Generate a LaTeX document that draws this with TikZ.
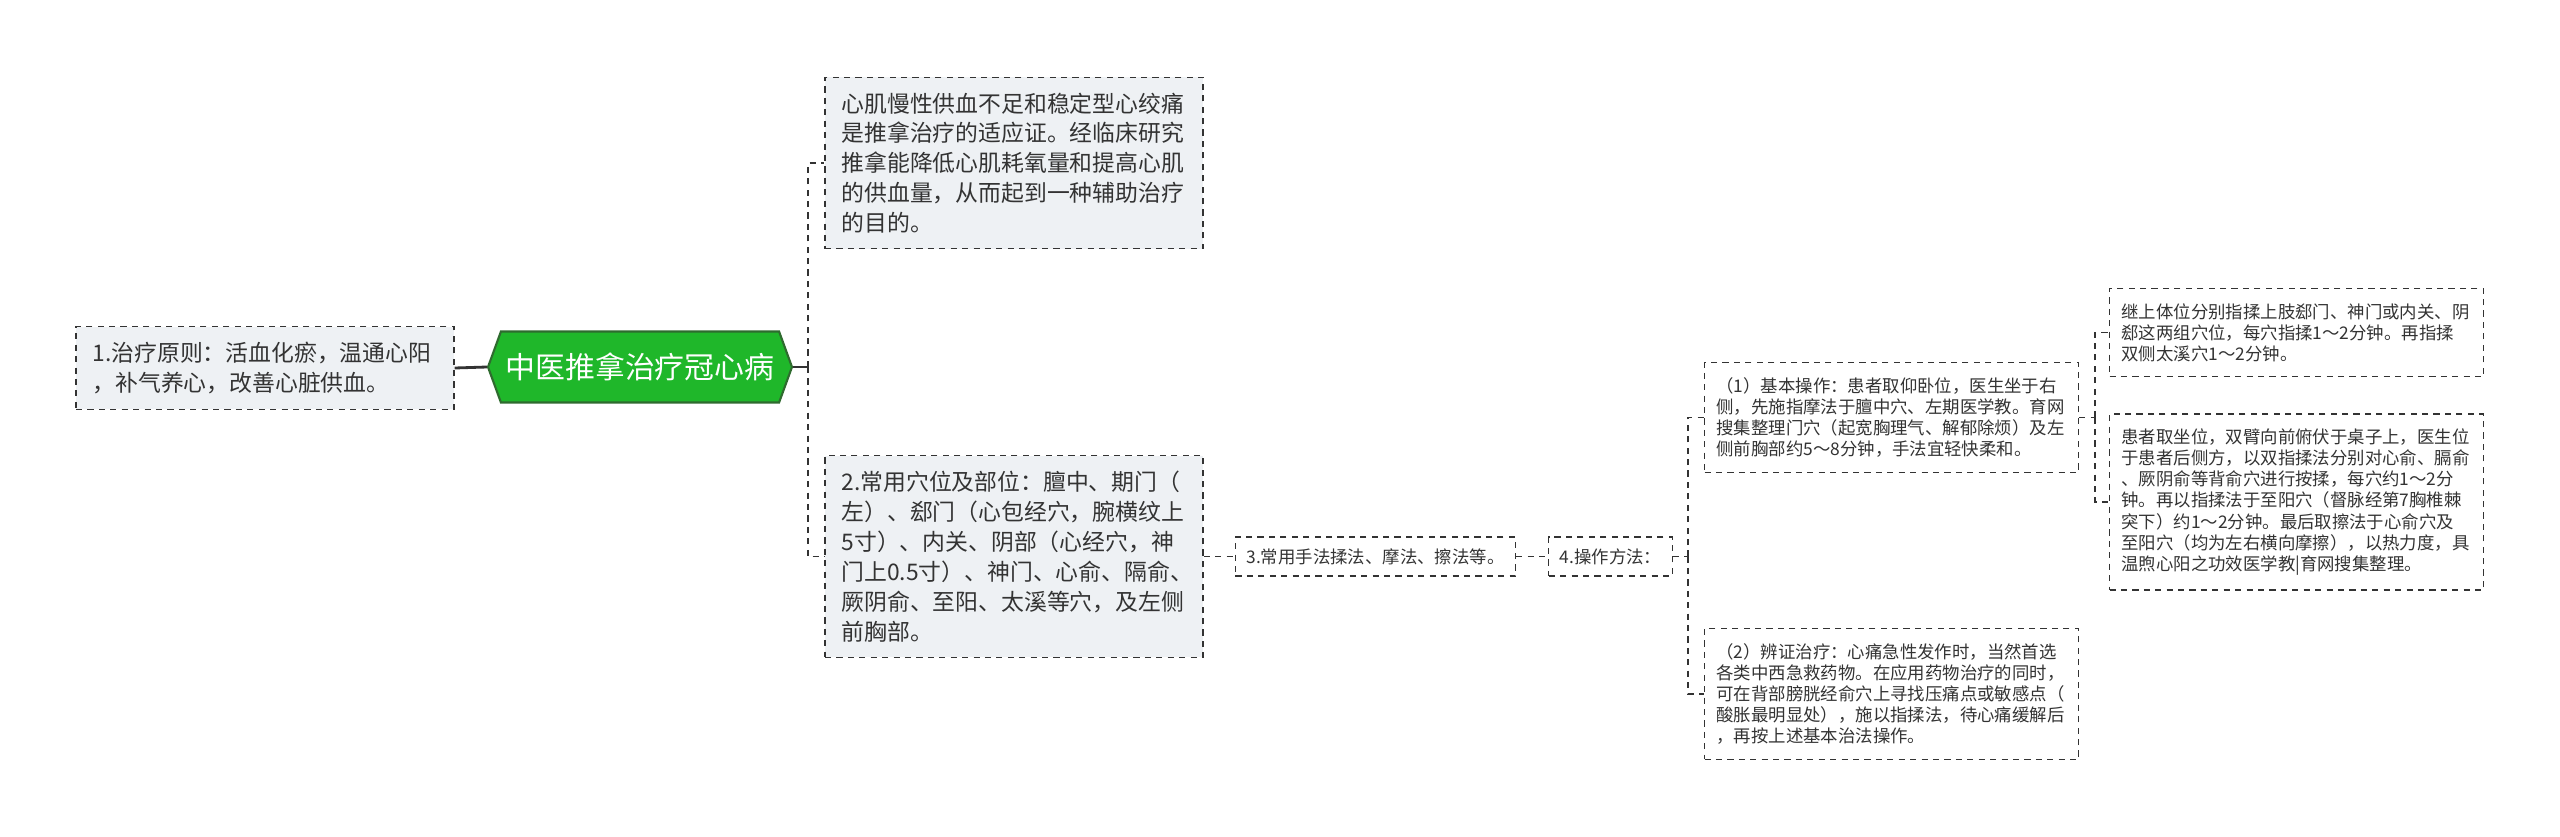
\documentclass[tikz,border=0pt]{standalone}
\usepackage{fontspec}
\setmainfont{Noto Sans CJK SC}
\usepackage{tikz}
\usetikzlibrary{shapes.symbols,positioning,calc}
\definecolor{boxfill}{HTML}{EEF1F4}
\definecolor{ink}{HTML}{333333}
\definecolor{topicgreen}{HTML}{1FB72A}
\definecolor{topicedge}{HTML}{2F6B2F}

\begin{document}
\begin{tikzpicture}[
  topic/.style={shape=signal, signal to=east and west, signal pointer angle=140, draw=topicedge, line width=1.2pt, fill=topicgreen, text=white, minimum width=6.08cm, minimum height=1.42cm, inner xsep=2pt, font=\fontsize{17}{20}\selectfont},
  box/.style={draw=ink, dash pattern=on 3.5pt off 3pt, line width=0.8pt, fill=boxfill, text=ink, align=left, text width=6.9cm, inner xsep=0.33cm, inner ysep=8.8pt, font=\fontsize{13}{17}\selectfont},
  small/.style={draw=ink, dash pattern=on 3.5pt off 3pt, line width=0.8pt, fill=white, text=ink, align=left, text width=7.0cm, inner xsep=0.24cm, inner ysep=8.5pt, font=\fontsize{9.9}{12}\selectfont},
  tag/.style={small, text width=, inner xsep=0.22cm, inner ysep=6.5pt},
  link/.style={draw=ink, line width=1.6pt},
  branch/.style={draw=ink, line width=1.1pt, dash pattern=on 3.5pt off 3pt}
]
  \useasboundingbox (0,0) rectangle (51.2,-16.74);

  \node[topic] (root) at (12.8,-7.34) {中医推拿治疗冠心病};
  \node[box] (principle) at (5.3,-7.36) {1.治疗原则：活血化瘀，温通心阳\\，补气养心，改善心脏供血。};
  \node[box] (indic) at (20.28,-3.26) {心肌慢性供血不足和稳定型心绞痛\\是推拿治疗的适应证。经临床研究\\推拿能降低心肌耗氧量和提高心肌\\的供血量，从而起到一种辅助治疗\\的目的。};
  \node[box] (points) at (20.28,-11.13) {2.常用穴位及部位：膻中、期门（\\左）、郄门（心包经穴，腕横纹上\\5寸）、内关、阴部（心经穴，神\\门上0.5寸）、神门、心俞、隔俞、\\厥阴俞、至阳、太溪等穴，及左侧\\前胸部。};
  \node[tag] (tech) at (27.51,-11.13) {3.常用手法揉法、摩法、擦法等。};
  \node[tag] (ops) at (32.21,-11.13) {4.操作方法：};
  \node[small] (basic) at (37.83,-8.35) {（1）基本操作：患者取仰卧位，医生坐于右\\侧，先施指摩法于膻中穴、左期医学教。育网\\搜集整理门穴（起宽胸理气、解郁除烦）及左\\侧前胸部约5～8分钟，手法宜轻快柔和。};
  \node[small] (diff) at (37.83,-13.88) {（2）辨证治疗：心痛急性发作时，当然首选\\各类中西急救药物。在应用药物治疗的同时，\\可在背部膀胱经俞穴上寻找压痛点或敏感点（\\酸胀最明显处），施以指揉法，待心痛缓解后\\，再按上述基本治法操作。};
  \node[small] (upper) at (45.93,-6.65) {继上体位分别指揉上肢郄门、神门或内关、阴\\郄这两组穴位，每穴指揉1～2分钟。再指揉\\双侧太溪穴1～2分钟。};
  \node[small] (back) at (45.93,-10.04) {患者取坐位，双臂向前俯伏于桌子上，医生位\\于患者后侧方，以双指揉法分别对心俞、膈俞\\、厥阴俞等背俞穴进行按揉，每穴约1～2分\\钟。再以指揉法于至阳穴（督脉经第7胸椎棘\\突下）约1～2分钟。最后取擦法于心俞穴及\\至阳穴（均为左右横向摩擦），以热力度，具\\温煦心阳之功效医学教|育网搜集整理。};

  \coordinate (j1) at (16.16,-7.34);
  \coordinate (j2) at (33.76,-11.13);
  \coordinate (j3) at (41.9,-8.35);

  \draw[link] (root.west) -- (principle.east);
  \draw[link] (root.east) -- (j1);
  \draw[branch] (j1) |- (indic.west);
  \draw[branch] (j1) |- (points.west);
  \draw[branch] (points.east) -- (tech.west);
  \draw[branch] (tech.east) -- (ops.west);
  \draw[branch] (ops.east) -- (j2);
  \draw[branch] (j2) |- (basic.west);
  \draw[branch] (j2) |- (diff.west);
  \draw[branch] (basic.east) -- (j3);
  \draw[branch] (j3) |- (upper.west);
  \draw[branch] (j3) |- (back.west);
\end{tikzpicture}
\end{document}
